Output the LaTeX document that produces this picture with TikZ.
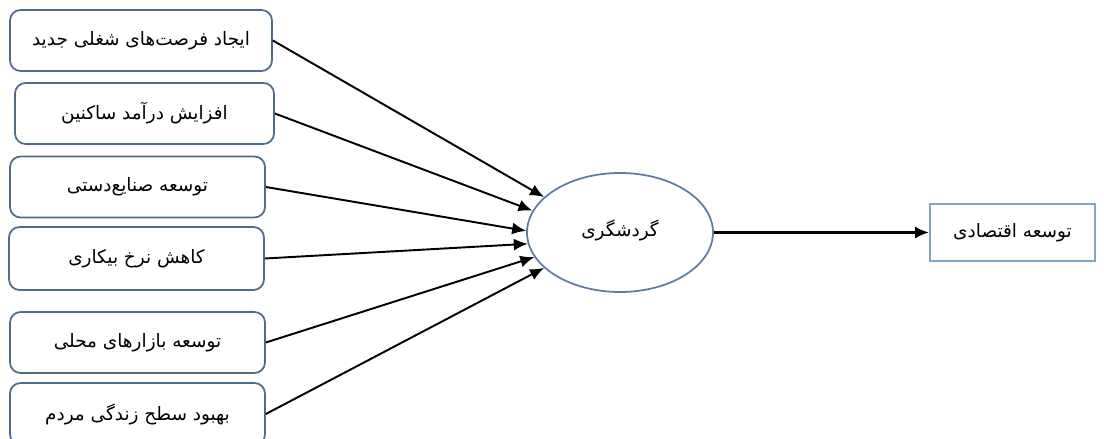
\documentclass[tikz,border=0pt]{standalone}
\usepackage{fontspec}
\newfontfamily\arabicfont[Script=Arabic]{DejaVu Sans}
\TeXXeTstate=1
\usetikzlibrary{arrows.meta, positioning, shapes.geometric}
\usepackage{xcolor}
\definecolor{boxedge}{RGB}{80,108,140}
\definecolor{ovaledge}{RGB}{95,125,160}
\definecolor{outedge}{RGB}{130,165,205}
\newcommand{\fa}[1]{\arabicfont\beginR #1\endR}

\begin{document}
\begin{tikzpicture}[
        font=\fontsize{10.5}{12}\selectfont,
        box/.style={draw=boxedge, line width=1pt, rounded corners=6pt, align=center,
                    minimum width=5.1cm, minimum height=1.22cm, inner sep=3pt},
        oval/.style={draw=ovaledge, line width=1pt, ellipse, minimum width=3.72cm, minimum height=2.38cm},
        outbox/.style={draw=outedge, line width=1pt, minimum width=3.3cm, minimum height=1.14cm},
        ar/.style={-{Latex[length=2.8mm, width=2.4mm]}, line width=1.1pt}
    ]
        \useasboundingbox (0,0) rectangle (22.08,8.78);

        % factors
        \node[box, minimum width=5.24cm] (jobs)    at (2.82,7.97) {\fa{ایجاد فرصت‌های شغلی جدید}};
        \node[box, minimum width=5.18cm] (income)  at (2.89,6.51) {\fa{افزایش درآمد ساکنین}};
        \node[box]                       (craft)   at (2.75,5.04) {\fa{توسعه صنایع‌دستی}};
        \node[box, minimum height=1.26cm] (unemp)  at (2.73,3.61) {\fa{کاهش نرخ بیکاری}};
        \node[box]                       (market)  at (2.75,1.93) {\fa{توسعه بازارهای محلی}};
        \node[box, minimum height=1.24cm] (living) at (2.75,0.50) {\fa{بهبود سطح زندگی مردم}};

        % tourism and outcome
        \node[oval]                      (tour)    at (12.4,4.13) {\raisebox{1.8mm}{\fa{گردشگری}}};
        \node[outbox]                    (econ)    at (20.25,4.13) {\fa{توسعه اقتصادی}};

        \foreach \a/\ang in {jobs/155, income/166, craft/179, unemp/187, market/196, living/205}
            {\draw[ar] (\a.east) -- (tour.\ang);}
        \draw[ar, line width=1.5pt] (tour.east) -- (econ.west);
    \end{tikzpicture}
\end{document}
